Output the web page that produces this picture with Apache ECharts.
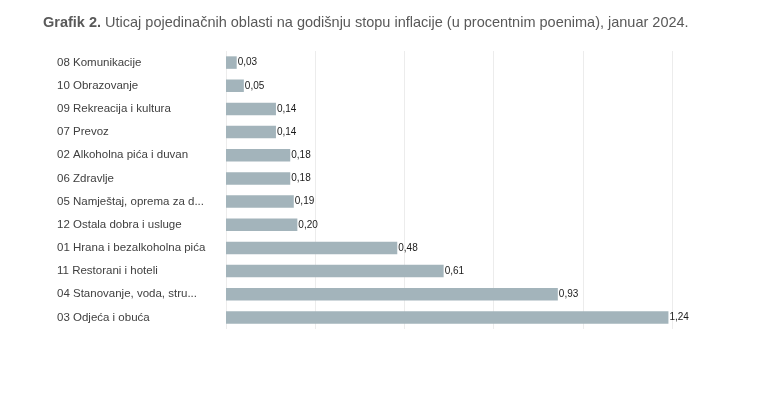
<!DOCTYPE html>
<html><head><meta charset="utf-8">
<script src="https://cdn.jsdelivr.net/npm/echarts@6/dist/echarts.min.js"></script>
<style>html,body{margin:0;padding:0;background:#fff}#c{width:758px;height:396px}</style>
</head><body><div id="c"></div>
<script>
const categories = [
  "08 Komunikacije",
  "10 Obrazovanje",
  "09 Rekreacija i kultura",
  "07 Prevoz",
  "02 Alkoholna pića i duvan",
  "06 Zdravlje",
  "05 Namještaj, oprema za d...",
  "12 Ostala dobra i usluge",
  "01 Hrana i bezalkoholna pića",
  "11 Restorani i hoteli",
  "04 Stanovanje, voda, stru...",
  "03 Odjeća i obuća"
];
const values = [0.03, 0.05, 0.14, 0.14, 0.18, 0.18, 0.19, 0.20, 0.48, 0.61, 0.93, 1.24];
const titleBold = "Grafik 2.";
const titleRest = " Uticaj pojedinačnih oblasti na godišnju stopu inflacije (u procentnim poenima), januar 2024.";

const FF = '"Liberation Sans", Arial, sans-serif';
const chart = echarts.init(document.getElementById('c'), null, {renderer: 'canvas'});
chart.setOption({
  animation: false,
  textStyle: {fontFamily: FF},
  title: {
    text: '{b|' + titleBold + '}{r|' + titleRest + '}',
    left: 38, top: 10,
    textStyle: {
      fontWeight: 'normal',
      rich: {
        b: {fontWeight: 'bold', fontSize: 14.5, color: '#595959', fontFamily: FF},
        r: {fontWeight: 'normal', fontSize: 14.5, color: '#595959', fontFamily: FF}
      }
    }
  },
  grid: {left: 226, right: 86, top: 51, bottom: 67, containLabel: false},
  xAxis: {
    type: 'value', min: 0, max: 1.25, interval: 0.25,
    axisLabel: {show: false}, axisLine: {show: false}, axisTick: {show: false},
    splitLine: {show: true, lineStyle: {color: '#ececec', width: 1}}
  },
  yAxis: {
    type: 'category', data: categories, inverse: true,
    axisLine: {show: false}, axisTick: {show: false},
    axisLabel: {align: 'left', margin: 169, fontSize: 11.5, color: '#404040'}
  },
  series: [{
    type: 'bar', data: values, barWidth: 12.5,
    itemStyle: {color: '#a3b4bb'},
    label: {
      show: true, position: 'right', distance: 1, fontSize: 10, color: '#1a1a1a',
      formatter: p => p.value.toFixed(2).replace('.', ',')
    }
  }]
});
</script></body></html>
